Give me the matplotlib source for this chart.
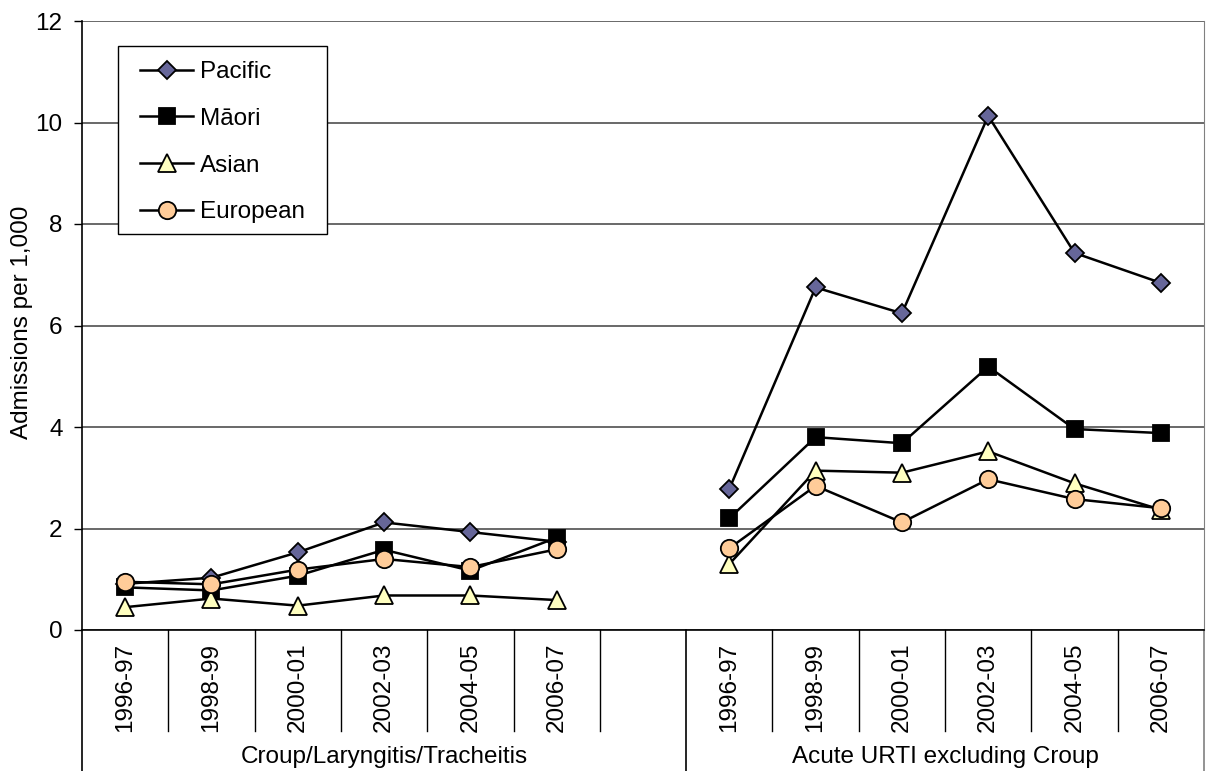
import numpy as np
import matplotlib
matplotlib.use("Agg")
import matplotlib.pyplot as plt
import matplotlib.transforms as mtransforms
from matplotlib.patches import Rectangle

plt.rcParams['font.family'] = ['Liberation Sans', 'DejaVu Sans']

periods = ["1996-97", "1998-99", "2000-01", "2002-03", "2004-05", "2006-07"]
groups = ["Croup/Laryngitis/Tracheitis", "Acute URTI excluding Croup"]

# admissions per 1,000, one list per ethnic group and condition
pacific_croup = [0.91, 1.03, 1.53, 2.12, 1.93, 1.74]
maori_croup = [0.84, 0.78, 1.07, 1.58, 1.17, 1.82]
asian_croup = [0.45, 0.62, 0.48, 0.68, 0.68, 0.59]
european_croup = [0.95, 0.90, 1.19, 1.40, 1.24, 1.59]

pacific_urti = [2.78, 6.75, 6.24, 10.13, 7.43, 6.84]
maori_urti = [2.20, 3.80, 3.68, 5.19, 3.96, 3.88]
asian_urti = [1.30, 3.14, 3.10, 3.52, 2.89, 2.37]
european_urti = [1.61, 2.84, 2.12, 2.97, 2.58, 2.40]

series = [
    ("Pacific", pacific_croup, pacific_urti, dict(marker="D", ms=9.3, mfc="#666699")),
    ("M\u0101ori", maori_croup, maori_urti, dict(marker="s", ms=11.5, mfc="black")),
    ("Asian", asian_croup, asian_urti, dict(marker="^", ms=12.5, mfc="#FFFFC0")),
    ("European", european_croup, european_urti, dict(marker="o", ms=12.5, mfc="#FFCC99")),
]

FS = 17.5
n = len(periods)
x1 = np.arange(n)
x2 = np.arange(n) + n + 1
nslots = 2 * n + 1

fig = plt.figure(figsize=(12.11, 7.71), dpi=100)
ax = fig.add_axes([82 / 1211, 1 - 630 / 771, (1204 - 82) / 1211, (630 - 21) / 771])

for name, ya, yb, st in series:
    kw = dict(color="black", lw=1.8, mec="black", mew=1.3, **st)
    ax.plot(x1, ya, label=name, zorder=3, **kw)
    ax.plot(x2, yb, zorder=3, **kw)

ax.set_xlim(-0.5, nslots - 0.5)
ax.set_ylim(0, 12)
ax.set_yticks(np.arange(0, 13, 2))
ax.yaxis.grid(True, color="#404040", lw=1.1)
ax.set_axisbelow(True)
ax.tick_params(axis="y", direction="out", length=6, width=1, pad=8, labelsize=FS)

ax.set_xticks(np.concatenate([x1, x2]))
ax.set_xticklabels(periods + periods, rotation=90, fontsize=FS, va="top")
ax.tick_params(axis="x", length=0, pad=9)

ax.spines["top"].set_visible(False)
ax.spines["right"].set_color("#808080")
ax.spines["left"].set_linewidth(1.2)
ax.spines["bottom"].set_linewidth(1.2)

# multi-level category separators
trans = mtransforms.blended_transform_factory(ax.transData, ax.transAxes)
y_short = (630 - 731) / 609
y_long = (630 - 771) / 609
for b in np.arange(nslots + 1) - 0.5:
    if b == -0.5 or b == n + 0.5:
        ax.plot([b, b], [0, y_long], transform=trans, color="black", lw=1.2, clip_on=False)
    elif b == nslots - 0.5:
        ax.plot([b, b], [0, y_long], transform=trans, color="#808080", lw=1.2, clip_on=False)
    else:
        ax.plot([b, b], [0, y_short], transform=trans, color="black", lw=1, clip_on=False)

y_grp = (630 - 757) / 609
ax.text(n / 2, y_grp, groups[0], transform=trans, ha="center", va="center", fontsize=FS)
ax.text(n + 1 + (n - 1) / 2, y_grp, groups[1], transform=trans, ha="center", va="center", fontsize=FS)

fig.text(22 / 1211, 1 - 322 / 771, "Admissions per 1,000", rotation=90,
         ha="center", va="center", fontsize=FS)

# legend box drawn separately so the padding matches
box = Rectangle((118 / 1211, 1 - 234 / 771), (327 - 118) / 1211, (234 - 46) / 771,
                transform=fig.transFigure, facecolor="white", edgecolor="black", lw=1,
                zorder=4, clip_on=False)
ax.add_patch(box)
leg = ax.legend(loc="upper left", bbox_to_anchor=(140 / 1211, 1 - 61 / 771),
                bbox_transform=fig.transFigure, fontsize=FS, frameon=False,
                handlelength=2.2, handletextpad=0.25, labelspacing=1.02,
                borderpad=0, borderaxespad=0, markerscale=1.0)
leg.set_zorder(5)

fig.savefig("out.png", dpi=100)
